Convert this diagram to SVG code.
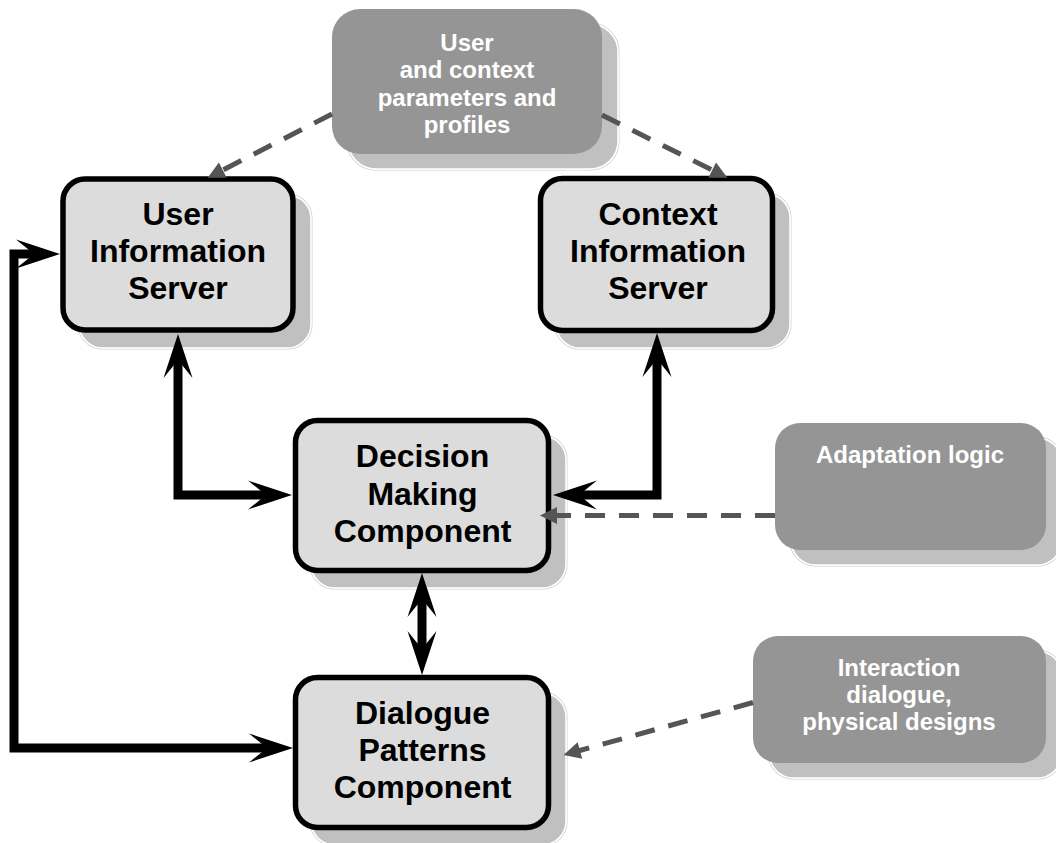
<svg xmlns="http://www.w3.org/2000/svg" width="1056" height="843" viewBox="0 0 1056 843">
<style>
.shadow{fill:#c0c0c0;stroke:#ffffff;stroke-width:1.5}
.shadowOut{fill:none;stroke:#cfcfcf;stroke-width:1}
.node{fill:#dcdcdc;stroke:#000;stroke-width:5.5}
.note{fill:#959595}
.t{font-family:"Liberation Sans",Arial,Helvetica,sans-serif;font-weight:bold;text-anchor:middle}
.tb{font-size:32px;fill:#000}
.tw{font-size:24px;fill:#fff}
.solid{fill:none;stroke:#000;stroke-width:9;stroke-linejoin:miter;stroke-linecap:butt}
.dash{fill:none;stroke:#555;stroke-width:5;stroke-dasharray:20 14}
</style>
<defs>
<marker id="ah" markerUnits="userSpaceOnUse" markerWidth="60" markerHeight="40" refX="0" refY="0" orient="auto-start-reverse" overflow="visible">
<path d="M16,0 L-28,-14.5 L-10,0 L-28,14.5 Z" fill="#000"/>
</marker>
<marker id="dh" markerUnits="userSpaceOnUse" markerWidth="30" markerHeight="30" refX="0" refY="0" orient="auto" overflow="visible">
<path d="M-2,-8.5 L15,0 L-2,8.5 Z" fill="#555"/>
</marker>
</defs>

<g id="note-params">
<rect class="shadowOut" x="347" y="23" width="272" height="147" rx="28"/>
<rect class="shadow" x="348" y="24" width="270" height="145" rx="28"/>
<rect class="note" x="332" y="9" width="270" height="145" rx="28"/>
<text class="t tw" x="467" y="51">User</text>
<text class="t tw" x="467" y="78">and context</text>
<text class="t tw" x="467" y="105.5">parameters and</text>
<text class="t tw" x="467" y="133">profiles</text>
</g>

<g id="note-adaptation">
<rect class="shadowOut" x="790" y="437" width="273" height="129" rx="25"/>
<rect class="shadow" x="791" y="438" width="271" height="127" rx="25"/>
<rect class="note" x="775" y="423" width="271" height="127" rx="25"/>
<text class="t tw" x="910" y="463">Adaptation logic</text>
</g>

<g id="note-interaction">
<rect class="shadowOut" x="768" y="650" width="295" height="129" rx="25"/>
<rect class="shadow" x="769" y="651" width="293" height="127" rx="25"/>
<rect class="note" x="753" y="636" width="293" height="127" rx="25"/>
<text class="t tw" x="899" y="676">Interaction</text>
<text class="t tw" x="899" y="703">dialogue,</text>
<text class="t tw" x="899" y="730">physical designs</text>
</g>

<g id="node-uis">
<rect class="shadowOut" x="78" y="194" width="234" height="155" rx="24"/>
<rect class="shadow" x="79" y="195" width="232" height="153" rx="24"/>
<rect class="node" x="63" y="179" width="230" height="151" rx="22"/>
<text class="t tb" x="178" y="225">User</text>
<text class="t tb" x="178" y="262">Information</text>
<text class="t tb" x="178" y="299">Server</text>
</g>

<g id="node-cis">
<rect class="shadowOut" x="555" y="193" width="236" height="156" rx="24"/>
<rect class="shadow" x="556" y="194" width="234" height="154" rx="24"/>
<rect class="node" x="540.5" y="178.5" width="232" height="152" rx="22"/>
<text class="t tb" x="658" y="225">Context</text>
<text class="t tb" x="658" y="262">Information</text>
<text class="t tb" x="658" y="299">Server</text>
</g>

<g id="node-dmc">
<rect class="shadowOut" x="310" y="435" width="257" height="154" rx="24"/>
<rect class="shadow" x="311" y="436" width="255" height="152" rx="24"/>
<rect class="node" x="295.5" y="420.5" width="253" height="150" rx="22"/>
<text class="t tb" x="422.5" y="467">Decision</text>
<text class="t tb" x="422.5" y="504.5">Making</text>
<text class="t tb" x="422.5" y="542">Component</text>
</g>

<g id="node-dpc">
<rect class="shadowOut" x="310" y="692" width="257" height="154" rx="24"/>
<rect class="shadow" x="311" y="693" width="255" height="152" rx="24"/>
<rect class="node" x="295.5" y="677.5" width="253" height="150" rx="22"/>
<text class="t tb" x="422.5" y="724">Dialogue</text>
<text class="t tb" x="422.5" y="761">Patterns</text>
<text class="t tb" x="422.5" y="798">Component</text>
</g>

<g id="connectors">
<path class="solid" d="M178,350 V495 H276" marker-start="url(#ah)" marker-end="url(#ah)"/>
<path class="solid" d="M657,349 V495 H569" marker-start="url(#ah)" marker-end="url(#ah)"/>
<path class="solid" d="M422,589 V659" marker-start="url(#ah)" marker-end="url(#ah)"/>
<path class="solid" d="M277,748 H14 V254 H44" marker-start="url(#ah)" marker-end="url(#ah)"/>
<path class="dash" d="M332,114 L221,171" marker-end="url(#dh)"/>
<path class="dash" d="M602,115 L714,171" marker-end="url(#dh)"/>
<path class="dash" d="M775,515.5 L555,515.5" marker-end="url(#dh)"/>
<path class="dash" d="M753,702.5 L578,751" marker-end="url(#dh)"/>
</g>
</svg>
